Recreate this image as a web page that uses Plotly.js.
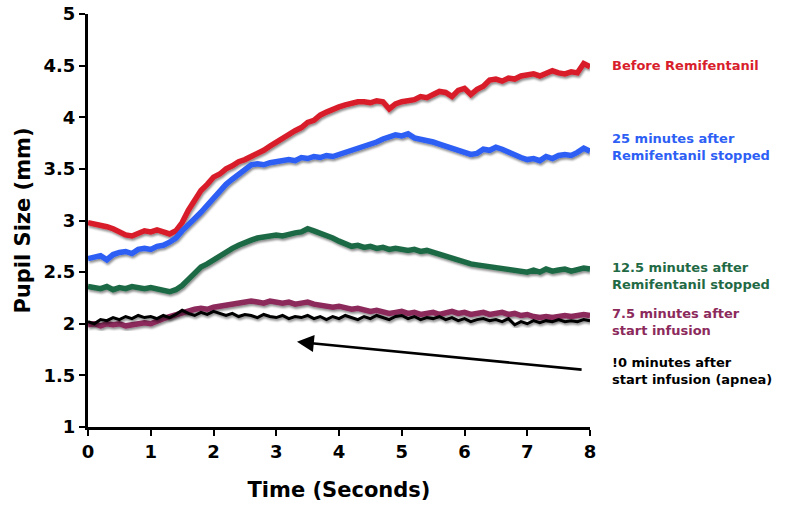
<!DOCTYPE html>
<html>
<head>
<meta charset="utf-8">
<script src="https://cdn.plot.ly/plotly-3.0.1.min.js"></script>
<style>
  html, body { margin: 0; padding: 0; background: #fff; }
  #chart { width: 785px; height: 507px; }
  .scatterlayer .js-line { filter: url(#shade); }
</style>
</head>
<body>
<svg width="0" height="0" style="position:absolute">
  <defs>
    <filter id="shade" x="-5%" y="-20%" width="110%" height="140%">
      <feDropShadow dx="1" dy="2" stdDeviation="1.2" flood-color="#000" flood-opacity="0.45"/>
    </filter>
  </defs>
</svg>
<div id="chart"></div>
<script>
// Pupil diameter traces sampled every 0.1 s from 0 to 8 s
const sampleStep = 0.1;

const beforeRemi = [2.98,2.97,2.95,2.94,2.92,2.89,2.86,2.85,2.87,2.90,
  2.89,2.91,2.89,2.87,2.90,2.98,3.10,3.20,3.29,3.35,
  3.42,3.45,3.50,3.53,3.57,3.59,3.62,3.64,3.68,3.72,
  3.76,3.79,3.84,3.87,3.90,3.95,3.97,4.02,4.05,4.08,
  4.10,4.12,4.14,4.15,4.15,4.14,4.16,4.15,4.08,4.13,
  4.15,4.16,4.17,4.20,4.19,4.22,4.25,4.24,4.20,4.26,
  4.28,4.22,4.27,4.30,4.36,4.37,4.35,4.38,4.37,4.40,
  4.41,4.42,4.40,4.43,4.45,4.43,4.42,4.44,4.43,4.52,4.49];

const after25 = [2.63,2.65,2.66,2.62,2.67,2.69,2.70,2.68,2.72,2.73,
  2.72,2.75,2.76,2.79,2.83,2.90,2.97,3.02,3.08,3.15,
  3.22,3.29,3.35,3.40,3.45,3.50,3.54,3.55,3.54,3.56,
  3.57,3.58,3.59,3.58,3.61,3.60,3.62,3.61,3.63,3.62,
  3.64,3.66,3.67,3.70,3.71,3.74,3.76,3.79,3.81,3.83,
  3.82,3.84,3.80,3.79,3.78,3.76,3.74,3.72,3.71,3.68,
  3.66,3.64,3.65,3.69,3.68,3.71,3.69,3.66,3.64,3.61,
  3.59,3.60,3.58,3.62,3.60,3.63,3.64,3.63,3.66,3.70,3.67];

const after12p5 = [2.36,2.35,2.34,2.36,2.33,2.35,2.34,2.36,2.35,2.34,
  2.35,2.34,2.32,2.31,2.33,2.37,2.43,2.49,2.55,2.58,
  2.62,2.65,2.69,2.73,2.76,2.79,2.81,2.83,2.84,2.85,
  2.86,2.85,2.87,2.88,2.89,2.92,2.90,2.88,2.86,2.83,
  2.80,2.77,2.75,2.76,2.74,2.75,2.73,2.74,2.72,2.73,
  2.72,2.71,2.72,2.70,2.71,2.69,2.67,2.65,2.63,2.61,
  2.60,2.58,2.57,2.56,2.55,2.55,2.54,2.53,2.52,2.51,
  2.50,2.52,2.50,2.53,2.51,2.52,2.53,2.51,2.53,2.54,2.53];

const infusion7p5 = [1.99,2.00,1.98,2.00,1.99,2.00,1.98,1.99,2.00,2.01,
  2.00,2.03,2.05,2.07,2.09,2.11,2.12,2.14,2.15,2.14,
  2.16,2.17,2.18,2.19,2.20,2.21,2.22,2.21,2.20,2.22,
  2.21,2.20,2.21,2.19,2.20,2.21,2.19,2.18,2.17,2.16,
  2.17,2.15,2.14,2.15,2.13,2.12,2.13,2.12,2.10,2.11,
  2.12,2.10,2.11,2.09,2.10,2.11,2.09,2.10,2.12,2.10,
  2.11,2.09,2.10,2.11,2.09,2.10,2.11,2.09,2.10,2.08,
  2.09,2.07,2.06,2.07,2.06,2.07,2.08,2.07,2.08,2.09,2.08];

const infusion10 = [2.02,2.00,2.04,2.03,2.06,2.04,2.07,2.05,2.08,2.06,
  2.07,2.05,2.08,2.06,2.09,2.13,2.10,2.08,2.11,2.09,
  2.12,2.10,2.08,2.10,2.07,2.09,2.08,2.06,2.09,2.07,
  2.06,2.08,2.05,2.07,2.06,2.08,2.05,2.07,2.04,2.07,
  2.05,2.08,2.06,2.04,2.07,2.05,2.08,2.06,2.04,2.07,
  2.08,2.05,2.07,2.04,2.06,2.05,2.07,2.04,2.06,2.03,
  2.05,2.02,2.04,2.05,2.03,2.04,2.02,2.05,1.99,2.02,
  2.00,2.03,2.01,2.03,2.02,2.04,2.02,2.03,2.02,2.04,2.03];

const seriesNames = ["Before Remifentanil",
  "25 minutes after<br>Remifentanil stopped",
  "12.5 minutes after<br>Remifentanil stopped",
  "7.5 minutes after<br>start infusion",
  "!0 minutes after<br>start infusion (apnea)"];
const seriesColors = ["#d81e2c", "#2d5ff5", "#1f6a45", "#8c2a5c", "#000000"];
const seriesWidths = [5.5, 5.5, 5.5, 5.5, 3];
const seriesValues = [beforeRemi, after25, after12p5, infusion7p5, infusion10];
// Vertical position of each right-hand label, in mm
const labelY = [4.50, 3.71, 2.46, 2.02, 1.54];

const time = beforeRemi.map((_, i) => +(i * sampleStep).toFixed(2));

const FONT = "DejaVu Sans, Verdana, sans-serif";

const traces = seriesValues.map((vals, k) => ({
  x: time, y: vals, type: "scatter", mode: "lines",
  name: seriesNames[k],
  line: { color: seriesColors[k], width: seriesWidths[k], shape: "linear" },
  hoverinfo: "skip"
}));

const annotations = seriesNames.map((name, k) => ({
  xref: "paper", yref: "y", x: 1.04, y: labelY[k],
  xanchor: "left", yanchor: "middle", align: "left",
  text: name, showarrow: false,
  font: { family: FONT, size: 13, color: seriesColors[k], weight: "bold" }
}));

// Arrow pointing from the apnea label back to its trace
annotations.push({
  xref: "x", yref: "y", axref: "x", ayref: "y",
  x: 3.33, y: 1.825, ax: 7.89, ay: 1.554,
  text: "", showarrow: true, arrowhead: 2, arrowsize: 1.3,
  arrowwidth: 2.6, arrowcolor: "#000", standoff: 0
});

const layout = {
  width: 785, height: 507,
  margin: { l: 88, r: 195, t: 14, b: 80 },
  paper_bgcolor: "#fff", plot_bgcolor: "#fff",
  showlegend: false,
  font: { family: FONT, color: "#000" },
  xaxis: {
    range: [0, 8], dtick: 1, tick0: 0,
    showgrid: false, zeroline: false,
    showline: true, linecolor: "#000", linewidth: 3,
    ticks: "outside", ticklen: 6, tickwidth: 2, tickcolor: "#000",
    tickfont: { family: FONT, size: 18, weight: "bold" },
    title: { text: "Time (Seconds)", standoff: 22,
             font: { family: FONT, size: 21, weight: "bold" } }
  },
  yaxis: {
    range: [1, 5], dtick: 0.5, tick0: 1,
    showgrid: false, zeroline: false,
    showline: true, linecolor: "#000", linewidth: 3,
    ticks: "outside", ticklen: 6, tickwidth: 2, tickcolor: "#000",
    tickfont: { family: FONT, size: 18, weight: "bold" },
    title: { text: "Pupil Size (mm)", standoff: 8,
             font: { family: FONT, size: 21, weight: "bold" } }
  },
  annotations: annotations
};

Plotly.newPlot("chart", traces, layout, { displayModeBar: false, staticPlot: true });
</script>
</body>
</html>
